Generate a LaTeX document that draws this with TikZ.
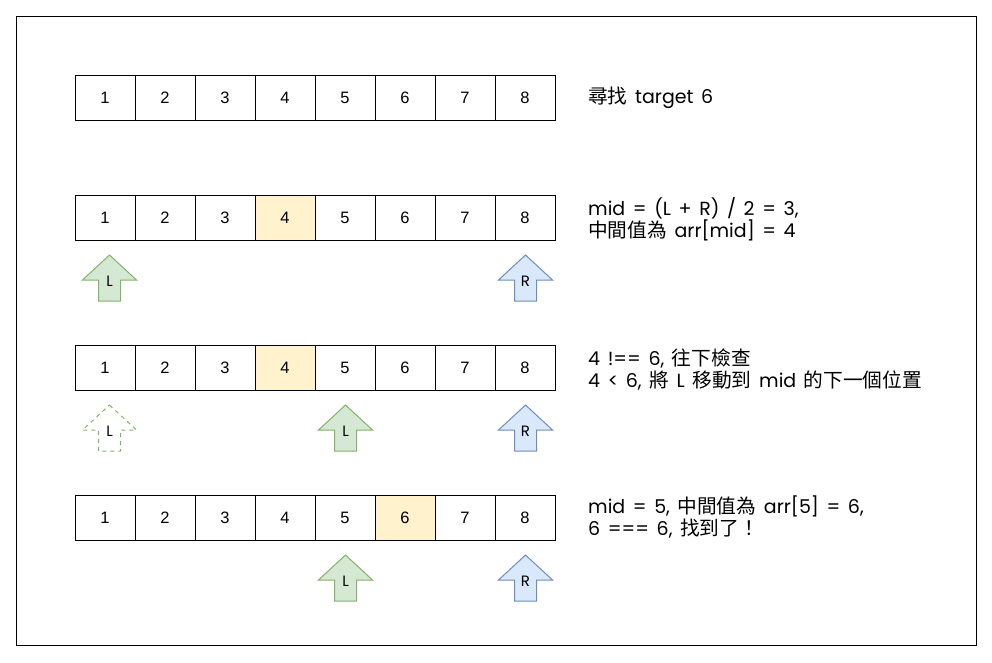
\documentclass[tikz,border=0pt]{standalone}
\usepackage{fontspec}
\setmainfont{Liberation Sans}
\newfontfamily\cjk{Noto Sans CJK TC}
\newfontfamily\lat{Poppins}[WordSpace=1.5]
\newcommand\zh[1]{{\cjk\fontsize{19.7}{22}\selectfont #1}}
\definecolor{hlfill}{HTML}{FFF2CC}
\definecolor{gfill}{HTML}{D5E8D4}
\definecolor{gline}{HTML}{82B366}
\definecolor{bfill}{HTML}{DAE8FC}
\definecolor{bline}{HTML}{6C8EBF}
\newcommand\myarrow[5]{% name, style, cx, ty, label
  \path[#2] (#3,#4) -- ++(27,25) -- ++(-16,0) -- ++(0,21) -- ++(-22,0) -- ++(0,-21) -- ++(-16,0) -- cycle;
  \node[lbl] (#1) at (#3,#4+26) {#5};
}
\begin{document}
\begin{tikzpicture}[x=1pt,y=-1pt,
  cell/.style={draw=black,line width=1pt,minimum width=60pt,minimum height=45pt,inner sep=0pt,outer sep=0pt,anchor=north west,font=\fontsize{16.5}{18}\selectfont},
  hl/.style={cell,fill=hlfill},
  note/.style={anchor=west,align=left,inner sep=0pt,font=\lat\fontsize{19}{22}\selectfont},
  lbl/.style={inner sep=0pt,font=\lat\fontsize{15}{16}\selectfont},
  garrow/.style={draw=gline,fill=gfill,line width=1pt,line join=miter},
  barrow/.style={draw=bline,fill=bfill,line width=1pt,line join=miter},
  darrow/.style={draw=gline,line width=1pt,dash pattern=on 4pt off 4pt}]
\useasboundingbox (0,0) rectangle (992,662);
\node[draw=black,line width=1.3pt,minimum width=960pt,minimum height=629.5pt,anchor=north west,inner sep=0pt] (frame) at (15.5,15.5) {};
% rows
\foreach \r/\y/\h in {1/75/0,2/195/4,3/345/4,4/495/6}{
  \foreach \c in {1,...,8}{
    \ifnum\c=\h
      \node[hl] (r\r c\c) at ({75+60*(\c-1)},\y) {\c};
    \else
      \node[cell] (r\r c\c) at ({75+60*(\c-1)},\y) {\c};
    \fi
  }
}
% notes
\node[note] (t1) at (588,98) {\zh{尋找} target 6};
\node[note] (t2) at (588,219.5) {mid = (L + R) / 2 = 3,\\\zh{中間值為} arr[mid] = 4};
\node[note] (t3) at (588,369.5) {4 !== 6, \zh{往下檢查}\\4 < 6, \zh{將} L \zh{移動到} mid \zh{的下一個位置}};
\node[note] (t4) at (588,516.5) {mid = 5, \zh{中間值為} arr[5] = 6,\\6 === 6, \zh{找到了！}};
% arrows
\myarrow{a2l}{garrow}{109.5}{255}{L}
\myarrow{a2r}{barrow}{525.5}{255}{R}
\myarrow{a3o}{darrow}{109.5}{405}{L}
\myarrow{a3l}{garrow}{345.5}{405}{L}
\myarrow{a3r}{barrow}{525.5}{405}{R}
\myarrow{a4l}{garrow}{345.5}{555}{L}
\myarrow{a4r}{barrow}{525.5}{555}{R}
\end{tikzpicture}
\end{document}
